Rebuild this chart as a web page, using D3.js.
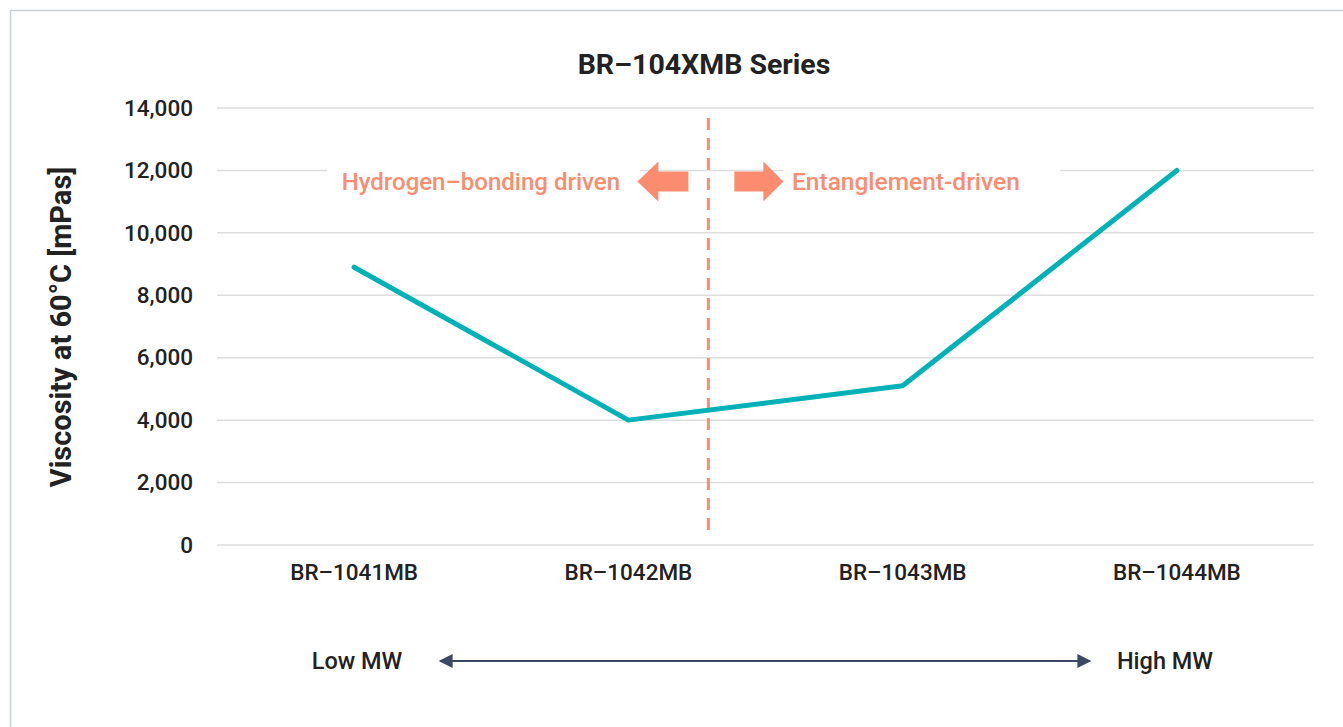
<!DOCTYPE html>
<html><head><meta charset="utf-8">
<script src="https://cdn.jsdelivr.net/npm/d3@7"></script>
<style>
html,body{margin:0;padding:0;background:#fff;}
svg text{font-family:Roboto, "Noto Sans", sans-serif;}
</style></head>
<body>
<svg id="c" width="1343" height="727"></svg>
<script>
const categories = ["BR–1041MB", "BR–1042MB", "BR–1043MB", "BR–1044MB"];
const viscosity = [8900, 4000, 5100, 12000];
const yTicks = [0, 2000, 4000, 6000, 8000, 10000, 12000, 14000];
const title = "BR–104XMB Series";
const yLabel = "Viscosity at 60°C [mPas]";
const leftNote = "Hydrogen–bonding driven";
const rightNote = "Entanglement-driven";
const mwLabels = ["Low MW", "High MW"];

const svg = d3.select("#c");
const W = 1343, H = 727;
const m = {left: 217, right: 1314, top: 108, bottom: 545};

// outer border
svg.append("rect").attr("x", 10.5).attr("y", 10.5).attr("width", W).attr("height", H)
  .attr("fill", "#fff").attr("stroke", "#c8d0d6").attr("stroke-width", 1.5);

const x = d3.scaleBand().domain(categories).range([m.left, m.right]);
const y = d3.scaleLinear().domain([0, 14000]).range([m.bottom, m.top]);

// gridlines
svg.append("g").selectAll("line").data(yTicks).join("line")
  .attr("x1", m.left).attr("x2", m.right)
  .attr("y1", d => y(d)).attr("y2", d => y(d))
  .attr("stroke", "#dedede").attr("stroke-width", 1.5);

// y axis labels
const fmt = d3.format(",");
const yAxis = d3.axisLeft(y).tickValues(yTicks).tickFormat(fmt).tickSize(0).tickPadding(24);
const gy = svg.append("g").attr("transform", `translate(${m.left},0)`).call(yAxis);
gy.select(".domain").remove();
gy.selectAll("text").attr("font-size", 22.5).attr("font-weight", 500).attr("fill", "#222")
  .style("font-family", "Roboto, sans-serif");

// x axis labels
const xAxis = d3.axisBottom(x).tickSize(0).tickPadding(19);
const gx = svg.append("g").attr("transform", `translate(0,${m.bottom})`).call(xAxis);
gx.select(".domain").remove();
gx.selectAll("text").attr("font-size", 22.5).attr("font-weight", 500).attr("fill", "#222")
  .style("font-family", "Roboto, sans-serif");

// title
svg.append("text").attr("x", 704).attr("y", 74).attr("text-anchor", "middle")
  .attr("font-size", 28.5).attr("font-weight", 700).attr("fill", "#222").text(title);

// y label
svg.append("text").attr("transform", "translate(71,327) rotate(-90)").attr("text-anchor", "middle")
  .attr("font-size", 29).attr("font-weight", 700).attr("fill", "#222").text(yLabel);

// annotation backgrounds
const noteColor = "#fb8c6f";
svg.append("rect").attr("x", 327).attr("y", y(12000) - 14).attr("width", 313).attr("height", 30).attr("fill", "#fff");
svg.append("rect").attr("x", 783).attr("y", y(12000) - 14).attr("width", 277).attr("height", 30).attr("fill", "#fff");

// dashed divider
const xDiv = x(categories[1]) + x.bandwidth() / 2 + 80;
svg.append("line").attr("x1", xDiv).attr("x2", xDiv).attr("y1", 118).attr("y2", 537)
  .attr("stroke", noteColor).attr("stroke-width", 3).attr("stroke-dasharray", "12,8");

// block arrows
const ay = y(12000) + 11;
svg.append("path").attr("fill", noteColor)
  .attr("d", `M${xDiv-71},${ay} L${xDiv-50},${ay-20} L${xDiv-50},${ay-10} L${xDiv-20},${ay-10} L${xDiv-20},${ay+10} L${xDiv-50},${ay+10} L${xDiv-50},${ay+20} Z`);
svg.append("path").attr("fill", noteColor)
  .attr("d", `M${xDiv+75},${ay} L${xDiv+55},${ay-20} L${xDiv+55},${ay-10} L${xDiv+26},${ay-10} L${xDiv+26},${ay+10} L${xDiv+55},${ay+10} L${xDiv+55},${ay+20} Z`);

svg.append("text").attr("x", 620).attr("y", ay + 9).attr("text-anchor", "end")
  .attr("font-size", 24).attr("font-weight", 500).attr("fill", noteColor).text(leftNote);
svg.append("text").attr("x", 792).attr("y", ay + 9).attr("text-anchor", "start")
  .attr("font-size", 24.5).attr("font-weight", 500).attr("fill", noteColor).text(rightNote);

// data line
const line = d3.line().x((d, i) => x(categories[i]) + x.bandwidth() / 2).y(d => y(d));
svg.append("path").datum(viscosity).attr("d", line).attr("fill", "none")
  .attr("stroke", "#00b1b8").attr("stroke-width", 5).attr("stroke-linecap", "round").attr("stroke-linejoin", "round");

// MW arrow
const defs = svg.append("defs");
["s", "e"].forEach(k => {
  defs.append("marker").attr("id", "m" + k).attr("viewBox", "0 0 10 10").attr("refX", 9).attr("refY", 5)
    .attr("markerWidth", 7.5).attr("markerHeight", 7).attr("markerUnits", "strokeWidth")
    .attr("orient", "auto-start-reverse")
    .append("path").attr("d", "M0,0 L10,5 L0,10 Z").attr("fill", "#3b4862");
});
const mwY = 661;
svg.append("line").attr("x1", 440).attr("x2", 1090).attr("y1", mwY).attr("y2", mwY)
  .attr("stroke", "#3b4862").attr("stroke-width", 2)
  .attr("marker-start", "url(#ms)").attr("marker-end", "url(#me)");
svg.append("text").attr("x", 357).attr("y", mwY + 8).attr("text-anchor", "middle")
  .attr("font-size", 23.5).attr("font-weight", 500).attr("fill", "#222").text(mwLabels[0]);
svg.append("text").attr("x", 1165).attr("y", mwY + 8).attr("text-anchor", "middle")
  .attr("font-size", 23.5).attr("font-weight", 500).attr("fill", "#222").text(mwLabels[1]);
</script>
</body></html>
